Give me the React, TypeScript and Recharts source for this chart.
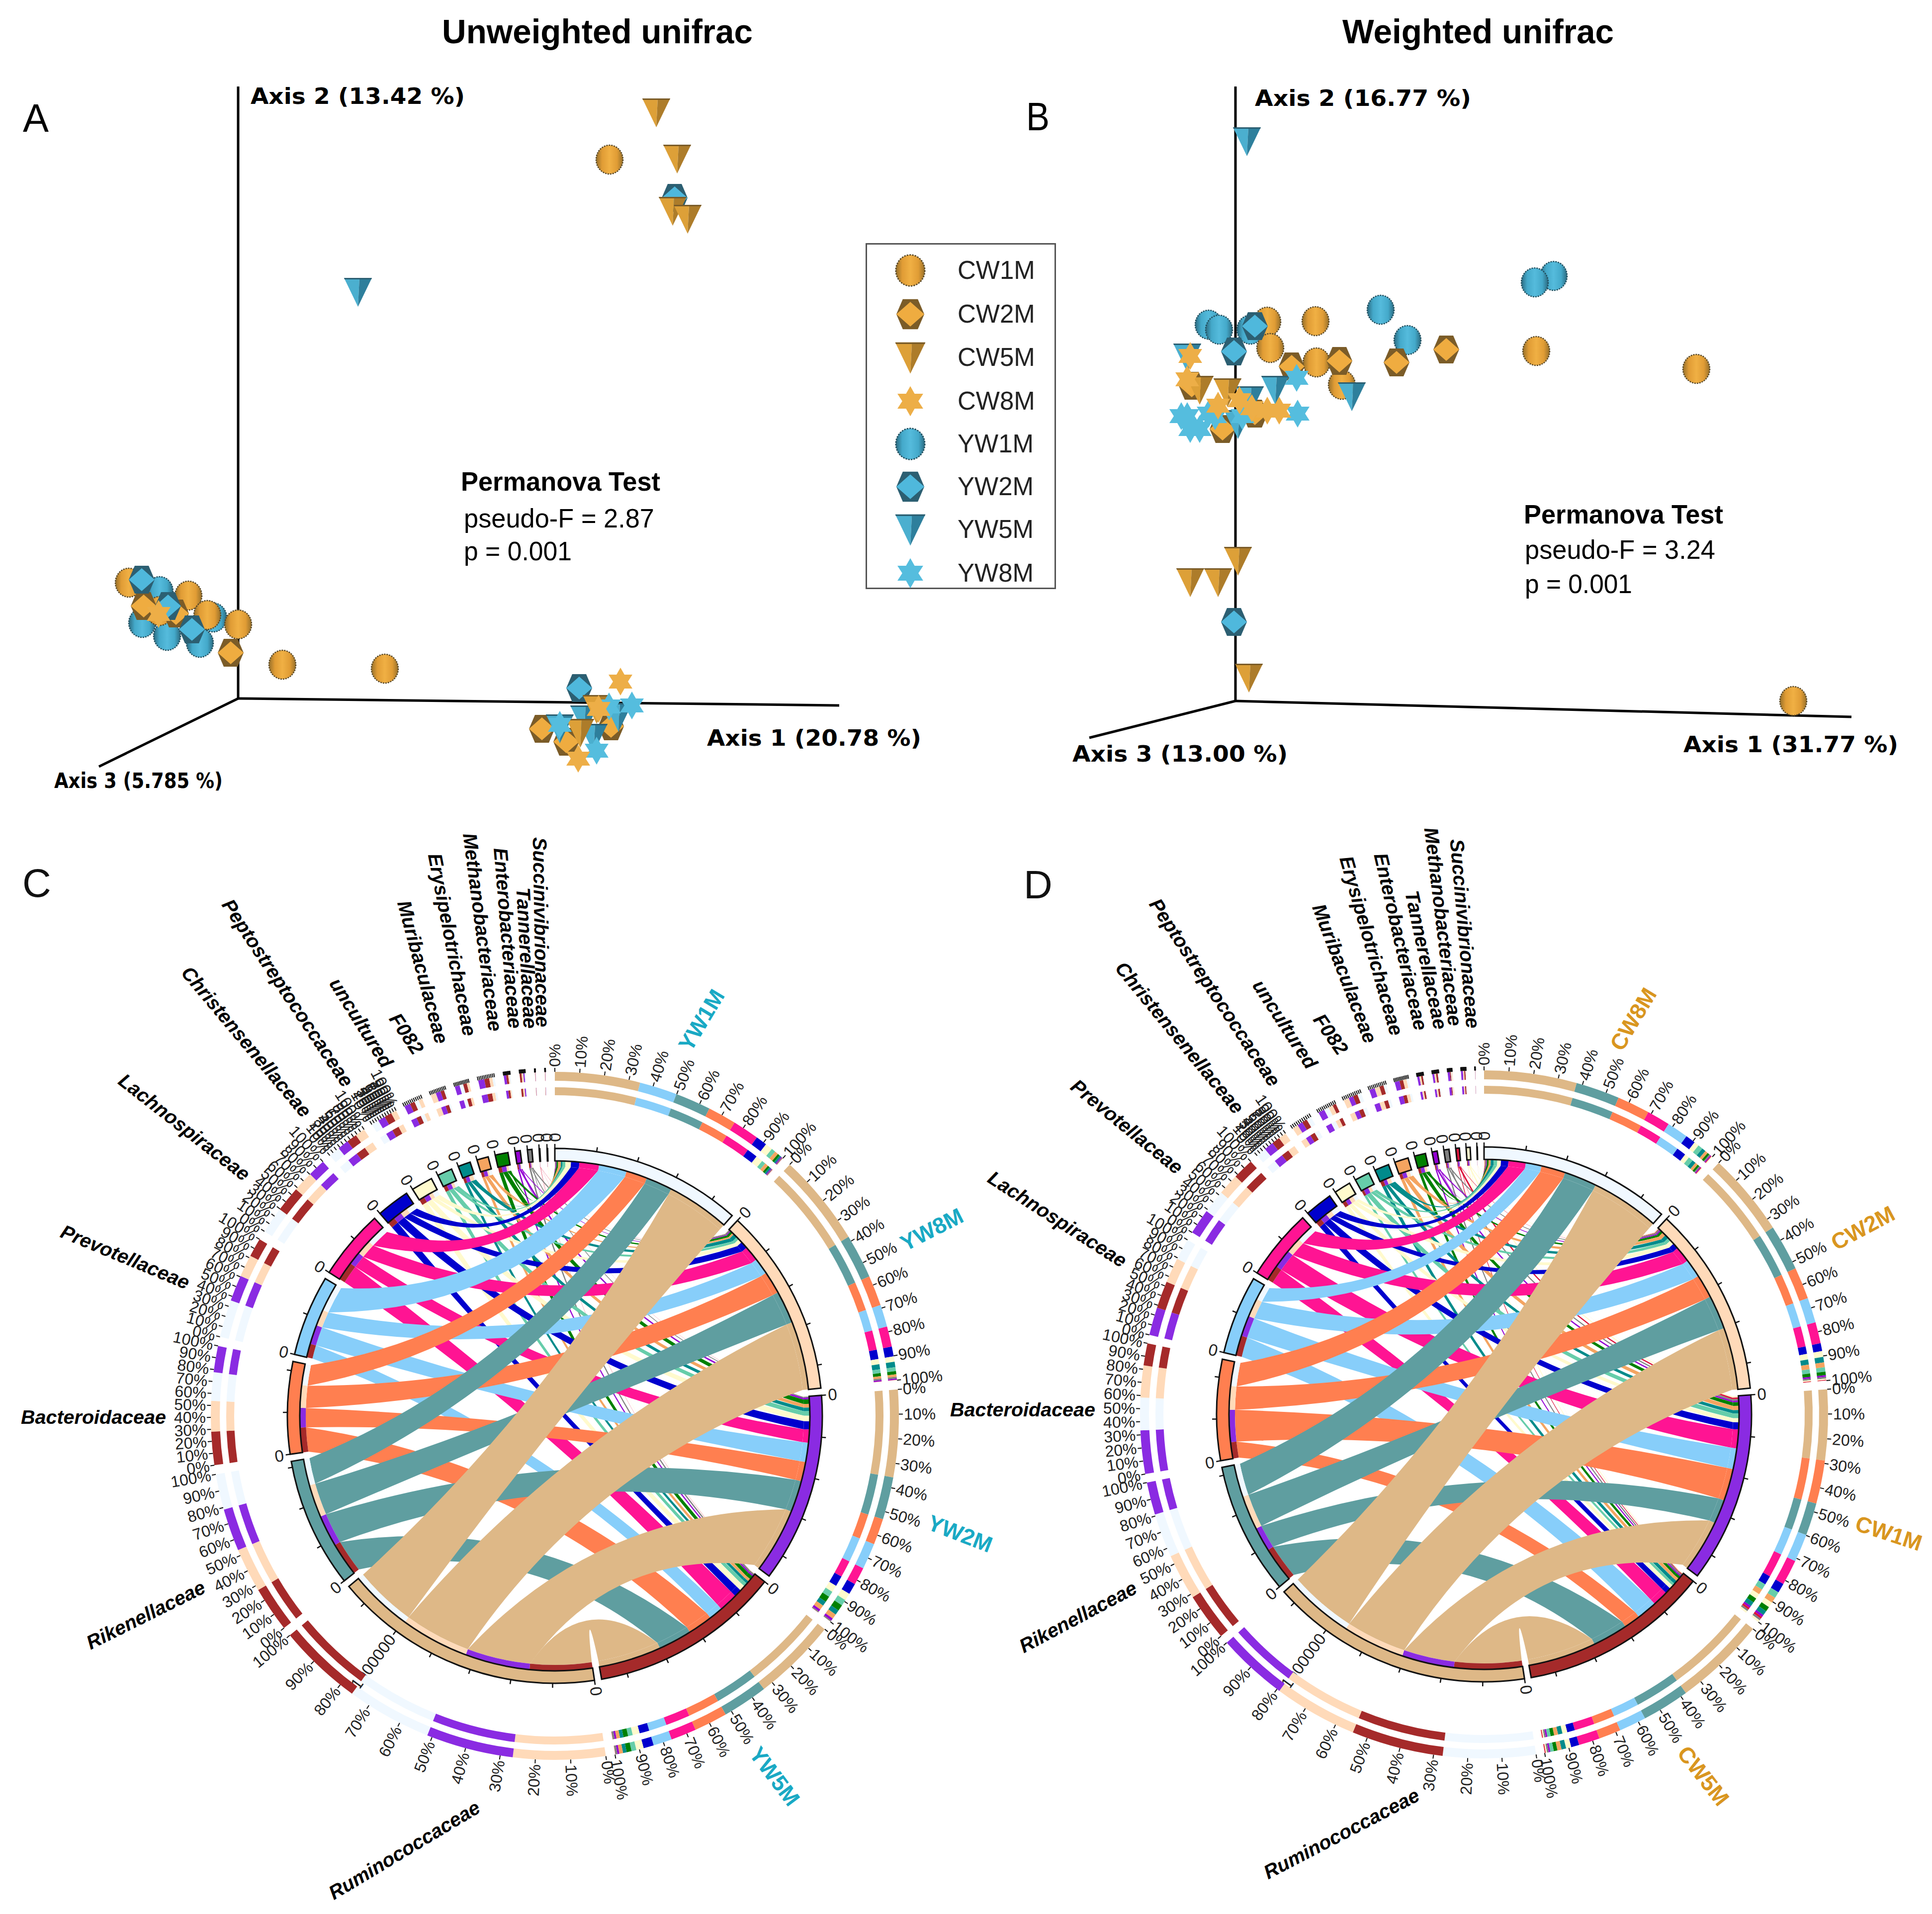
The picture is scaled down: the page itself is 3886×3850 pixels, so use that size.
import { Customized, Legend, Pie, PieChart, ReferenceLine, Scatter, ScatterChart, XAxis, YAxis } from 'recharts';

// ---- PCoA panels: projected scores ----
const groupNames = ['CW1M', 'CW2M', 'CW5M', 'CW8M', 'YW1M', 'YW2M', 'YW5M', 'YW8M'];
const groupKinds = ['orb', 'hex', 'tri', 'star', 'orb', 'hex', 'tri', 'star'];
const drawOrder = [4, 0, 1, 5, 6, 2, 7, 3];

const cw1mA = [[747, 1084], [-220, 233], [-100, 207], [-62, 168], [0, 149], [89, 68], [295, 60], [-158, 176]];
const cw2mA = [[-190, 186], [-125, 171], [-15, 92], [611, -61], [660, -87], [750, -56]];
const cw5mA = [[841, 1179], [883, 1086], [874, 981], [904, 965], [688, -69], [721, -21]];
const cw8mA = [[-160, 170], [769, 34], [725, -21], [684, -121]];
const yw1mA = [[-158, 216], [-193, 152], [-143, 126], [-77, 112], [-50, 163]];
const yw2mA = [[878, 1007], [-194, 239], [-141, 186], [-93, 139], [686, 21]];
const yw5mA = [[241, 818], [715, -79], [696, -42], [765, -37], [647, -60]];
const yw8mA = [[792, -14], [721, -105], [647, -53], [746, -16]];
const panelA = [cw1mA, cw2mA, cw5mA, cw8mA, yw1mA, yw2mA, yw5mA, yw8mA];

const cw1mB = [[64, 763], [161, 764], [70, 710], [163, 681], [214, 636], [605, 704], [927, 668], [1122, 0]];
const cw2mB = [[113, 673], [209, 684], [324, 681], [424, 707], [-88, 634], [-26, 547], [39, 578]];
const cw5mB = [[5, 282], [-91, 239], [-35, 239], [27, 47], [-16, 621], [-72, 626]];
const cw8mB = [[-91, 694], [-97, 647], [33, 589], [64, 584], [-35, 594], [8, 605], [88, 584]];
const yw1mB = [[640, 855], [602, 842], [292, 787], [346, 726], [-54, 757], [-33, 747], [30, 747]];
const yw2mB = [[39, 754], [-3, 703], [-3, 159]];
const yw5mB = [[23, 1126], [-97, 691], [5, 557], [80, 626], [234, 613], [29, 605]];
const yw8mB = [[123, 650], [125, 578], [-97, 573], [-72, 547], [-54, 578], [14, 573], [-109, 573], [-41, 573], [-91, 547]];
const panelB = [cw1mB, cw2mB, cw5mB, cw8mB, yw1mB, yw2mB, yw5mB, yw8mB];

// ---- chord panels: share of each family in each sample (%) ----
const familiesC = ['Ruminococcaceae', 'Rikenellaceae', 'Bacteroidaceae', 'Prevotellaceae', 'Lachnospiraceae', 'Christensenellaceae', 'Peptostreptococcaceae', 'uncultured', 'F082', 'Muribaculaceae', 'Erysipelotrichaceae', 'Methanobacteriaceae', 'Enterobacteriaceae', 'Tannerellaceae', 'Succinivibrionaceae'];
const familiesD = ['Ruminococcaceae', 'Rikenellaceae', 'Bacteroidaceae', 'Prevotellaceae', 'Lachnospiraceae', 'Christensenellaceae', 'Peptostreptococcaceae', 'uncultured', 'F082', 'Muribaculaceae', 'Erysipelotrichaceae', 'Methanobacteriaceae', 'Enterobacteriaceae', 'Tannerellaceae', 'Succinivibrionaceae', 'other'];
const familyColors = ['#DEB887', '#5F9EA0', '#FF7F50', '#87CEFA', '#FF1493', '#0000CD', '#FFFACD', '#66CDAA', '#008B8B', '#F4A460', '#008000', '#9400D3', '#808080', '#DC143C', '#FFFACD', '#F5DEB3'];
const sampleColors = ['#F0F8FF', '#FFDAB9', '#8A2BE2', '#A52A2A'];
const samplesC = ['YW1M', 'YW8M', 'YW2M', 'YW5M'];
const samplesD = ['CW8M', 'CW2M', 'CW1M', 'CW5M'];

const sharesC = [
  [34.7, 37.6, 35.6, 34.4],
  [14.5, 18.0, 17.3, 18.5],
  [11.6, 12.4, 10.7, 13.6],
  [15.3, 9.0, 10.6, 7.6],
  [10.8, 8.3, 7.2, 10.4],
  [4.6, 4.0, 4.5, 4.2],
  [3.0, 2.2, 3.0, 3.0],
  [1.7, 1.6, 2.5, 2.0],
  [0.8, 2.2, 2.0, 1.5],
  [1.5, 1.0, 2.0, 1.5],
  [0.9, 1.3, 2.5, 2.0],
  [0.4, 0.5, 1.0, 0.8],
  [0.35, 0.7, 0.5, 0.8],
  [0.1, 0.1, 0.05, 0.1],
  [0.05, 0.1, 0.05, 0.1],
];
const sharesD = [
  [37.8, 34.1, 28.8, 37.5],
  [17.9, 18.8, 13.3, 19.4],
  [13.3, 13.0, 17.7, 9.0],
  [8.7, 10.2, 11.4, 11.1],
  [9.5, 8.7, 10.4, 8.6],
  [4.1, 3.2, 3.9, 3.3],
  [2.0, 2.4, 2.2, 2.1],
  [2.0, 1.8, 2.6, 1.4],
  [1.6, 2.2, 1.9, 1.9],
  [1.2, 2.0, 2.3, 1.7],
  [0.9, 1.4, 2.0, 1.5],
  [0.4, 0.7, 0.9, 0.7],
  [0.5, 0.7, 0.8, 0.7],
  [0.3, 0.3, 0.9, 0.4],
  [0.3, 0.5, 0.8, 0.5],
  [0.05, 0.05, 0.05, 0.05],
];
const readsPerShare = 9200;
const tickStepReads = 200000;

// hand placed annotation: page x, page y, rotation
const familyLabelsC = [
  ['Ruminococcaceae', 813, 3721, -31], ['Rikenellaceae', 293, 3248, -26.5], ['Bacteroidaceae', 188, 2850, 0],
  ['Prevotellaceae', 252, 2528, 22.6], ['Lachnospiraceae', 371, 2267, 38], ['Christensenellaceae', 496, 2095, 50],
  ['Peptostreptococcaceae', 579, 1997, 56.4], ['uncultured', 727, 2057, 58], ['F082', 818, 2079, 56],
  ['Muribaculaceae', 851, 1955, 74.8], ['Erysipelotrichaceae', 910, 1900, 79], ['Methanobacteriaceae', 971, 1875, 82.5],
  ['Enterobacteriaceae', 1022, 1887, 85.3], ['Tannerellaceae', 1060, 1927, 87], ['Succinivibrionaceae', 1089, 1875, 89],
];
const familyLabelsD = [
  ['Ruminococcaceae', 2698, 3688, -27.6], ['Rikenellaceae', 2168, 3252, -28], ['Bacteroidaceae', 2057, 2835, 0],
  ['Lachnospiraceae', 2127, 2452, 32.7], ['Prevotellaceae', 2267, 2266, 39], ['Christensenellaceae', 2373, 2087, 50.6],
  ['Peptostreptococcaceae', 2444, 1996, 56.5], ['uncultured', 2585, 2060, 57], ['F082', 2677, 2080, 55],
  ['Muribaculaceae', 2705, 1958, 69], ['Erysipelotrichaceae', 2759, 1902, 74], ['Enterobacteriaceae', 2818, 1894, 77],
  ['Tannerellaceae', 2869, 1931, 78], ['Methanobacteriaceae', 2903, 1864, 83], ['Succinivibrionaceae', 2947, 1878, 85],
];
const sampleLabelsC = [['YW1M', 1411, 2052, -59], ['YW8M', 1874, 2473, -27], ['YW2M', 1931, 3085, 21], ['YW5M', 1558, 3573, 53]];
const sampleLabelsD = [['CW8M', 3285, 2050, -59], ['CW2M', 3747, 2470, -28], ['CW1M', 3799, 3084, 18], ['CW5M', 3426, 3572, 52]];

const SANS = '"Liberation Sans", Arial, sans-serif';
const R_RIBBON = 501;
const R_SUB = 513;
const R_SECTOR = 538;
const R_TRACK1 = [645, 661];
const R_TRACK2 = [674, 692];

// ---- markers ----
const orange = { main: '#EFAC40', dark: '#7B5C28', left: '#DDA038', right: '#AD7C2A', orb: 'url(#orbOrange)', edge: '#5A4A2A' };
const blue = { main: '#4FB8DC', dark: '#2C5F72', left: '#4BAFCF', right: '#2E7F9C', orb: 'url(#orbBlue)', edge: '#23505F' };

function Marker({ kind, group, cx, cy, size = 1 }: any) {
  const c = group < 4 ? orange : blue;
  const t = `translate(${cx},${cy}) scale(${size})`;
  if (kind === 'orb') {
    return (
      <g transform={t}>
        <ellipse rx={27} ry={29} fill={c.orb} stroke={c.edge} strokeWidth={2.5} strokeDasharray="3 2" />
      </g>
    );
  }
  if (kind === 'hex') {
    return (
      <g transform={t}>
        <polygon points="-26,0 -14,-28 14,-28 26,0 14,28 -14,28" fill={c.dark} />
        <polygon points="-26,0 0,-23 26,0 0,23" fill={c.main} />
      </g>
    );
  }
  if (kind === 'tri') {
    return (
      <g transform={t}>
        <polygon points="-28,-28 3,-28 0,30" fill={c.left} />
        <polygon points="3,-28 28,-28 0,30" fill={c.right} />
        <polygon points="-28,-28 28,-28 27,-25 -27,-25" fill={c.dark} />
      </g>
    );
  }
  const star = group < 4 ? '#EDAE47' : '#55BDDE';
  return <polygon transform={t} fill={star} points="0,-28 8,-14 24,-14 15,0 24,14 8,14 0,28 -8,14 -24,14 -15,0 -24,-14 -8,-14" />;
}

function LegendBox() {
  return (
    <div style={{ position: 'relative', width: 383, height: 696, border: '3px solid #555', boxSizing: 'border-box', background: '#fff' }}>
      {groupNames.map((name, i) => {
        const y = [52, 140, 227, 315, 401, 487, 573, 661][i];
        return (
          <div key={name}>
            <svg width={100} height={80} style={{ position: 'absolute', left: 37, top: y - 40 }}>
              <Marker kind={groupKinds[i]} group={i} cx={50} cy={40} size={1.08} />
            </svg>
            <span style={{ position: 'absolute', left: 182, top: y - 30, fontFamily: SANS, fontSize: 51, lineHeight: '60px', color: '#222' }}>{name}</span>
          </div>
        );
      })}
    </div>
  );
}

const Txt = ({ x, y, len, size, weight = 'normal', family = SANS, children }: any) => (
  <text x={x} y={y} fontSize={size} fontWeight={weight} fontFamily={family} fill="#000" dominantBaseline="central" textLength={len} lengthAdjust="spacingAndGlyphs">
    {children}
  </text>
);

function PcoaPanel({ left, width, xMin, yMax, series, axis1, axis2, axis3, legend, notes }: any) {
  return (
    <div style={{ position: 'absolute', left, top: 0 }}>
      <ScatterChart width={width} height={1650} margin={{ top: 0, right: 0, bottom: 0, left: 0 }}>
        <XAxis type="number" dataKey="x" domain={[xMin, xMin + width]} hide />
        <YAxis type="number" dataKey="y" domain={[yMax - 1650, yMax]} hide />
        <ReferenceLine segment={[{ x: 0, y: 0 }, { x: 0, y: axis2 }]} stroke="#000" strokeWidth={5} />
        <ReferenceLine segment={[{ x: 0, y: 0 }, { x: axis1[0], y: axis1[1] }]} stroke="#000" strokeWidth={5} />
        <ReferenceLine segment={[{ x: 0, y: 0 }, { x: axis3[0], y: axis3[1] }]} stroke="#000" strokeWidth={5} />
        {drawOrder.map((g) => (
          <Scatter
            key={groupNames[g]}
            name={groupNames[g]}
            data={series[g].map(([x, y]: number[]) => ({ x, y }))}
            isAnimationActive={false}
            shape={(p: any) => <Marker kind={groupKinds[g]} group={g} cx={p.cx} cy={p.cy} />}
          />
        ))}
        {legend && (
          <Legend
            layout="vertical"
            align="center"
            verticalAlign="middle"
            content={() => <LegendBox />}
            wrapperStyle={{ left: 1741, top: 489, width: 383, height: 696 }}
          />
        )}
        <Customized component={() => <g>{notes}</g>} />
      </ScatterChart>
    </div>
  );
}

// ---- chord layout ----
function buildChord(samples: string[], families: string[], shares: number[][], pad: number) {
  const sampleTotals = samples.map((_, s) => shares.reduce((acc, row) => acc + row[s], 0));
  const familyTotals = shares.map((row) => row.reduce((a, b) => a + b, 0));
  const total = sampleTotals.reduce((a, b) => a + b, 0) + familyTotals.reduce((a, b) => a + b, 0);
  const count = samples.length + families.length;
  const perUnit = (360 - count * pad) / total;
  const sectors: any[] = [];
  let at = 0;
  const push = (kind: string, index: number, value: number, fill: string, name: string) => {
    const end = at + value * perUnit;
    sectors.push({ kind, index, value, fill, name, start: at, end });
    at = end + pad;
  };
  samples.forEach((n, i) => push('sample', i, sampleTotals[i], sampleColors[i], n));
  families.forEach((n, i) => push('family', i, familyTotals[i], familyColors[i], n));

  const sampleEnds = shares.map(() => samples.map(() => [0, 0]));
  const familyEnds = shares.map(() => samples.map(() => [0, 0]));
  const subRing: any[] = [];
  const tracks: any[] = [];
  const gap = { value: pad / perUnit, fill: 'none' };
  sectors.forEach((sec) => {
    let a = sec.start;
    if (sec.kind === 'sample') {
      for (let f = families.length - 1; f >= 0; f--) {
        const v = shares[f][sec.index];
        sampleEnds[f][sec.index] = [a, a + v * perUnit];
        subRing.push({ value: v, fill: familyColors[f] });
        a += v * perUnit;
      }
      shares
        .map((row, f) => ({ value: row[sec.index], fill: familyColors[f] }))
        .sort((p, q) => q.value - p.value)
        .forEach((d) => tracks.push(d));
    } else {
      for (let s = samples.length - 1; s >= 0; s--) {
        const v = shares[sec.index][s];
        familyEnds[sec.index][s] = [a, a + v * perUnit];
        subRing.push({ value: v, fill: sampleColors[s] });
        a += v * perUnit;
      }
      shares[sec.index]
        .map((value, s) => ({ value, fill: sampleColors[s] }))
        .sort((p, q) => q.value - p.value)
        .forEach((d) => tracks.push(d));
    }
    subRing.push(gap);
    tracks.push(gap);
  });
  return { sectors, sampleEnds, familyEnds, subRing, tracks };
}

const pt = (cx: number, cy: number, r: number, deg: number) => {
  const a = (deg * Math.PI) / 180;
  return [cx + r * Math.sin(a), cy - r * Math.cos(a)];
};

function edgeCurve(cx: number, cy: number, from: number, to: number) {
  const d = Math.abs(((to - from + 540) % 360) - 180);
  const k = Math.pow(Math.cos(((d / 2) * Math.PI) / 180), 1.7);
  const rc = R_RIBBON * 0.74 * k;
  const p1 = pt(cx, cy, 1, from);
  const p2 = pt(cx, cy, 1, to);
  const vx = p1[0] + p2[0] - 2 * cx;
  const vy = p1[1] + p2[1] - 2 * cy;
  const n = Math.hypot(vx, vy) || 1;
  const e = pt(cx, cy, R_RIBBON, to);
  return `Q${cx + (vx / n) * rc},${cy + (vy / n) * rc} ${e[0]},${e[1]}`;
}

function ribbonPath(cx: number, cy: number, a: number[], b: number[]) {
  const a0 = pt(cx, cy, R_RIBBON, a[0]);
  const a1 = pt(cx, cy, R_RIBBON, a[1]);
  const b1 = pt(cx, cy, R_RIBBON, b[1]);
  const r = R_RIBBON;
  return `M${a0[0]},${a0[1]}A${r},${r} 0 0 1 ${a1[0]},${a1[1]}${edgeCurve(cx, cy, a[1], b[0])}A${r},${r} 0 0 1 ${b1[0]},${b1[1]}${edgeCurve(cx, cy, b[1], a[0])}Z`;
}

const radialText = (cx: number, cy: number, r: number, deg: number, text: string, size: number, key: string) => {
  const p = pt(cx, cy, r, deg);
  const right = deg < 180;
  return (
    <text
      key={key}
      x={p[0]}
      y={p[1]}
      fontSize={size}
      fontFamily={SANS}
      fill="#222"
      textAnchor={right ? 'start' : 'end'}
      dominantBaseline="central"
      transform={`rotate(${right ? deg - 90 : deg + 90} ${p[0]} ${p[1]})`}
    >
      {text}
    </text>
  );
};

const tickLine = (cx: number, cy: number, r0: number, r1: number, deg: number, key: string, w = 2.5) => {
  const p = pt(cx, cy, r0, deg);
  const q = pt(cx, cy, r1, deg);
  return <line key={key} x1={p[0]} y1={p[1]} x2={q[0]} y2={q[1]} stroke="#111" strokeWidth={w} />;
};

function ChordPanel({ left, width, cx, cy, samples, families, shares, pad, familyLabels, sampleLabels, sampleInk, letter }: any) {
  const top = 1650;
  const { sectors, sampleEnds, familyEnds, subRing, tracks } = buildChord(samples, families, shares, pad);
  const ribbons: any[] = [];
  for (let f = families.length - 1; f >= 0; f--) {
    for (let s = samples.length - 1; s >= 0; s--) {
      ribbons.push(<path key={`${f}-${s}`} d={ribbonPath(cx, cy, familyEnds[f][s], sampleEnds[f][s])} fill={familyColors[f]} />);
    }
  }
  const marks: any[] = [];
  sectors.forEach((sec, i) => {
    const span = sec.end - sec.start;
    // sector axis
    const reads = sec.value * readsPerShare;
    for (let k = 0; k * tickStepReads <= reads; k++) {
      const deg = sec.start + (span * (k * tickStepReads)) / reads;
      marks.push(tickLine(cx, cy, R_SECTOR, R_SECTOR + 9, deg, `t${i}-${k}`));
      if (k === 0) marks.push(radialText(cx, cy, R_SECTOR + 13, deg, '0', 33, `z${i}`));
      if (k * tickStepReads === 1000000) marks.push(radialText(cx, cy, R_SECTOR + 13, deg, '1000000', 33, `m${i}`));
    }
    // percent axis
    for (let p = 0; p <= 10; p++) {
      const deg = sec.start + (span * p) / 10;
      marks.push(tickLine(cx, cy, R_TRACK2[1], R_TRACK2[1] + 8, deg, `p${i}-${p}`, 2));
      if (span >= 4.5) marks.push(radialText(cx, cy, R_TRACK2[1] + 10, deg, `${p * 10}%`, 32, `l${i}-${p}`));
    }
  });
  const overlayText = (
    <g>
      {familyLabels.map(([name, x, y, rot]: any) => (
        <text key={name} x={x - left} y={y - top} fontSize={39.5} fontWeight="bold" fontStyle="italic" fontFamily={SANS} fill="#000" textAnchor="middle" dominantBaseline="central" transform={`rotate(${rot} ${x - left} ${y - top})`}>
          {name}
        </text>
      ))}
      {sampleLabels.map(([name, x, y, rot]: any) => (
        <text key={name} x={x - left} y={y - top} fontSize={45} fontFamily={SANS} fontWeight="bold" fill={sampleInk} textAnchor="middle" dominantBaseline="central" transform={`rotate(${rot} ${x - left} ${y - top})`}>
          {name}
        </text>
      ))}
      <text x={letter[1] - left} y={letter[2] - top} fontSize={80} fontFamily={SANS} fill="#111" dominantBaseline="central">{letter[0]}</text>
    </g>
  );
  const ringProps = { dataKey: 'value', cx, cy, startAngle: 90, endAngle: -270, isAnimationActive: false, legendType: 'none' as const, label: false, labelLine: false };
  return (
    <div style={{ position: 'absolute', left, top }}>
      <PieChart width={width} height={2200} margin={{ top: 0, right: 0, bottom: 0, left: 0 }}>
        <Customized component={() => <g>{ribbons}</g>} />
        <Pie {...ringProps} data={subRing} innerRadius={R_RIBBON} outerRadius={R_SUB} stroke="none" />
        <Pie {...ringProps} data={sectors} innerRadius={R_SUB} outerRadius={R_SECTOR} paddingAngle={pad} stroke="#111" strokeWidth={3} />
        <Pie {...ringProps} data={tracks} innerRadius={R_TRACK1[0]} outerRadius={R_TRACK1[1]} stroke="none" />
        <Pie {...ringProps} data={tracks} innerRadius={R_TRACK2[0]} outerRadius={R_TRACK2[1]} stroke="none" />
        <Customized component={() => <g>{marks}{overlayText}</g>} />
      </PieChart>
    </div>
  );
}

export default function App() {
  const notesA = (
    <g>
      <Txt x={889} y={63} len={625} size={68} weight="bold">Unweighted unifrac</Txt>
      <Txt x={504} y={193} len={431} size={45} weight="bold" family="DejaVu Sans">Axis 2 (13.42 %)</Txt>
      <Txt x={1422} y={1484} len={431} size={45} weight="bold" family="DejaVu Sans">Axis 1 (20.78 %)</Txt>
      <Txt x={109} y={1570} len={339} size={42} weight="bold" family="DejaVu Sans">Axis 3 (5.785 %)</Txt>
      <Txt x={46} y={237} len={52} size={80}>A</Txt>
      <Txt x={927} y={968} len={401} size={54} weight="bold">Permanova Test</Txt>
      <Txt x={933} y={1042} len={383} size={54}>pseudo-F = 2.87</Txt>
      <Txt x={933} y={1108} len={217} size={54}>p = 0.001</Txt>
    </g>
  );
  const off = 1950;
  const notesB = (
    <g>
      <Txt x={2700 - off} y={63} len={546} size={68} weight="bold">Weighted unifrac</Txt>
      <Txt x={2524 - off} y={197} len={435} size={45} weight="bold" family="DejaVu Sans">Axis 2 (16.77 %)</Txt>
      <Txt x={3386 - off} y={1497} len={432} size={45} weight="bold" family="DejaVu Sans">Axis 1 (31.77 %)</Txt>
      <Txt x={2157 - off} y={1516} len={433} size={45} weight="bold" family="DejaVu Sans">Axis 3 (13.00 %)</Txt>
      <Txt x={2064 - off} y={234} len={47} size={80}>B</Txt>
      <Txt x={3065 - off} y={1034} len={401} size={54} weight="bold">Permanova Test</Txt>
      <Txt x={3067 - off} y={1105} len={383} size={54}>pseudo-F = 3.24</Txt>
      <Txt x={3067 - off} y={1174} len={216} size={54}>p = 0.001</Txt>
    </g>
  );
  return (
    <div style={{ position: 'absolute', left: 0, top: 0, width: 3886, height: 3850, background: '#fff', overflow: 'hidden' }}>
      <svg width={0} height={0} style={{ position: 'absolute' }}>
        <defs>
          <linearGradient id="orbOrange" x1="0" x2="1" y1="0" y2="0">
            <stop offset="0" stopColor="#97702A" />
            <stop offset="0.22" stopColor="#E09C35" />
            <stop offset="0.5" stopColor="#F0B044" />
            <stop offset="0.78" stopColor="#E09C35" />
            <stop offset="1" stopColor="#97702A" />
          </linearGradient>
          <linearGradient id="orbBlue" x1="0" x2="1" y1="0" y2="0">
            <stop offset="0" stopColor="#2B6A80" />
            <stop offset="0.22" stopColor="#44A9CA" />
            <stop offset="0.5" stopColor="#55BBDC" />
            <stop offset="0.78" stopColor="#44A9CA" />
            <stop offset="1" stopColor="#2B6A80" />
          </linearGradient>
        </defs>
      </svg>
      <PcoaPanel left={0} width={2150} xMin={-479} yMax={1405} series={panelA} axis1={[1209, -14]} axis2={1231} axis3={[-280, -137]} legend notes={notesA} />
      <PcoaPanel left={off} width={1936} xMin={-535} yMax={1410} series={panelB} axis1={[1239, -32]} axis2={1236} axis3={[-294, -74]} notes={notesB} />
      <ChordPanel left={0} width={2100} cx={1116} cy={1198} samples={samplesC} families={familiesC} shares={sharesC} pad={1.55} familyLabels={familyLabelsC} sampleLabels={sampleLabelsC} sampleInk="#19A9C4" letter={['C', 45, 1776]} />
      <ChordPanel left={1850} width={2036} cx={1135} cy={1195} samples={samplesD} families={familiesD} shares={sharesD} pad={1.45} familyLabels={familyLabelsD} sampleLabels={sampleLabelsD} sampleInk="#D9961F" letter={['D', 2059, 1779]} />
    </div>
  );
}
